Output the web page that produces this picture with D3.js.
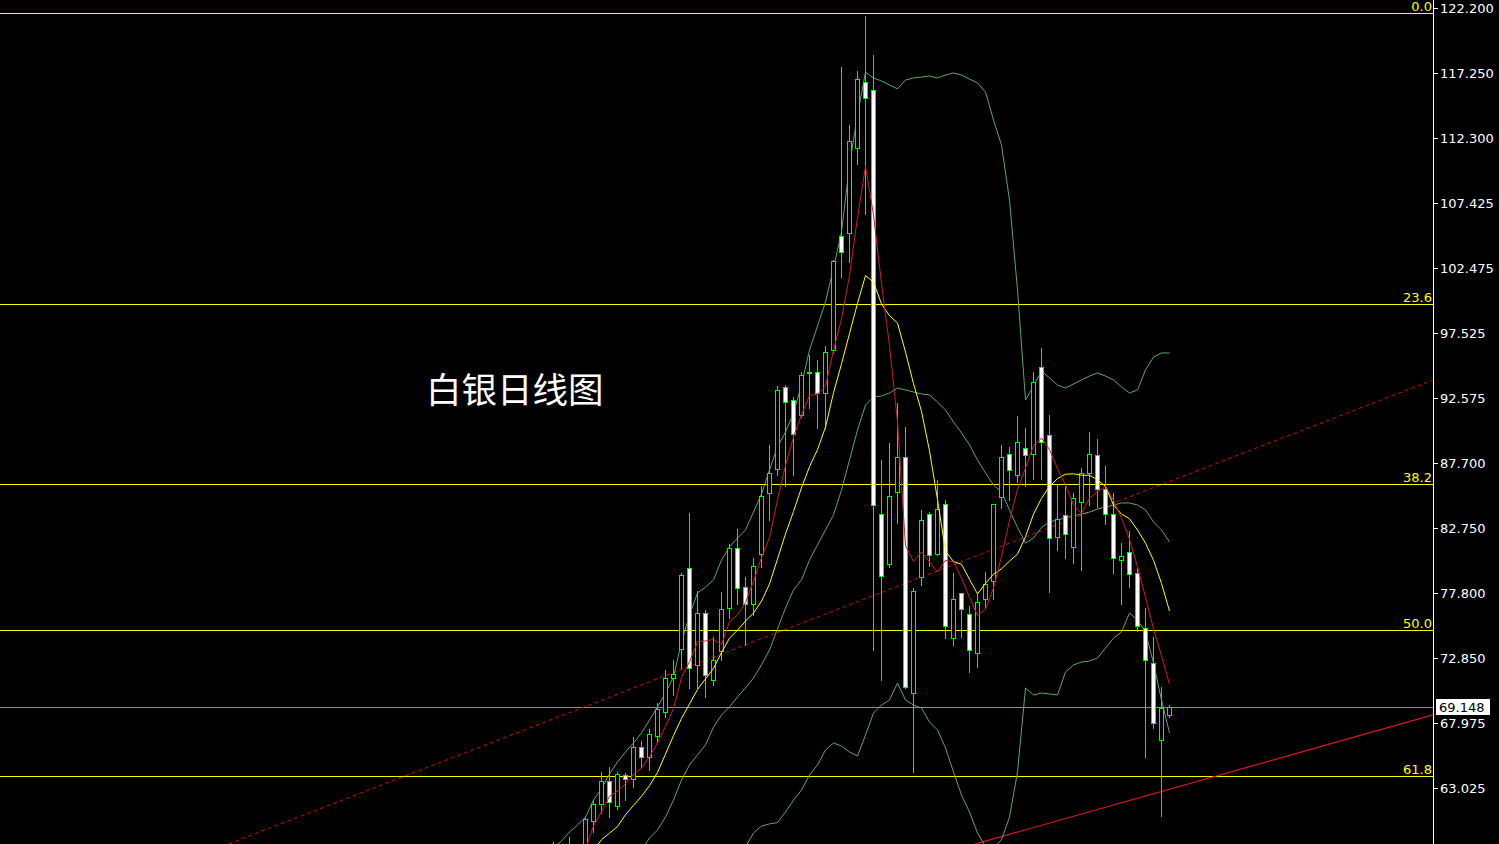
<!DOCTYPE html>
<html>
<head>
<meta charset="utf-8">
<script src="https://cdn.jsdelivr.net/npm/d3@7"></script>
<style>
  html, body { margin: 0; padding: 0; background: #000; overflow: hidden; }
  svg { display: block; }
</style>
</head>
<body>
<svg id="chart" width="1499" height="844"></svg>
<script>
// ---- Daily silver bars (oldest first) ----
const barOpen  = [57.6, 58.1, 57.3, 58.6, 58.2, 60.54, 61.79, 63.55, 61.68, 64.0,
                  63.7, 66.1, 65.4, 67.0, 68.8, 71.4, 73.6, 79.7, 72.35, 76.3,
                  71.2, 73.4, 76.7, 81.2, 78.25, 77.0, 80.75, 85.4, 87.2, 93.45,
                  92.45, 91.3, 94.5, 94.55, 93.0, 96.25, 104.9, 105.15, 111.6, 116.6,
                  115.95, 83.8, 80.0, 85.5, 88.15, 70.25, 79.0, 83.8, 80.75, 84.6,
                  74.4, 77.8, 76.2, 73.3, 77.35, 78.7, 85.1, 88.35, 86.8, 88.85,
                  88.35, 95.0, 89.8, 82.05, 83.7, 81.3, 84.75, 86.95, 88.25, 85.7,
                  83.8, 80.3, 80.9, 79.3, 75.2, 72.5, 66.7, 68.55];
const barHigh  = [58.9, 58.5, 59.3, 58.7, 60.85, 62.11, 64.2, 64.6, 64.2, 64.15,
                  66.9, 66.6, 67.5, 69.45, 71.97, 72.75, 79.3, 83.9, 78.0, 76.5,
                  74.5, 77.9, 81.5, 82.7, 79.0, 80.45, 85.9, 89.05, 93.5, 93.6,
                  92.7, 94.6, 95.9, 95.5, 96.55, 103.1, 117.75, 113.3, 117.4, 121.6,
                  118.6, 87.9, 89.2, 92.2, 90.4, 78.2, 84.1, 84.0, 86.4, 84.9,
                  79.3, 77.85, 76.8, 77.8, 79.4, 84.6, 89.05, 88.9, 91.25, 90.3,
                  94.55, 96.4, 91.3, 86.1, 85.9, 85.4, 87.3, 90.05, 89.5, 87.45,
                  85.4, 81.6, 82.5, 79.7, 76.65, 74.5, 70.7, 69.3];
const barLow   = [56.4, 56.9, 56.8, 57.1, 57.8, 59.71, 61.13, 60.8, 61.4, 62.1,
                  63.1, 64.6, 64.4, 66.5, 68.4, 70.1, 72.1, 70.6, 70.6, 69.9,
                  70.8, 72.7, 75.9, 77.0, 73.9, 76.15, 79.8, 83.35, 86.8, 85.9,
                  86.8, 91.2, 91.85, 90.3, 90.3, 96.0, 101.8, 102.95, 110.4, 106.6,
                  73.5, 71.2, 79.8, 83.1, 70.6, 64.2, 78.4, 79.9, 80.7, 74.4,
                  73.9, 74.5, 71.8, 72.2, 76.7, 77.4, 84.3, 84.9, 86.25, 85.9,
                  86.5, 86.5, 77.9, 81.1, 80.45, 80.1, 79.55, 84.5, 84.35, 83.05,
                  79.35, 77.0, 78.3, 74.95, 65.4, 67.55, 60.9, 68.4];
const barClose = [58.1, 57.2, 58.6, 57.9, 60.67, 61.79, 63.55, 61.94, 64.06, 63.7,
                  66.15, 65.4, 67.1, 69.0, 71.4, 71.7, 79.2, 72.1, 76.3, 71.6,
                  72.7, 76.6, 81.2, 78.2, 77.0, 79.9, 85.2, 86.9, 93.2, 92.3,
                  89.9, 94.35, 94.6, 93.0, 96.1, 103.0, 103.7, 112.1, 116.8, 115.4,
                  84.5, 79.1, 85.2, 88.1, 70.7, 78.0, 83.35, 80.7, 84.2, 75.3,
                  77.35, 76.6, 73.5, 77.1, 78.5, 84.55, 88.1, 87.15, 89.25, 88.3,
                  93.8, 89.3, 82.0, 83.4, 82.3, 85.0, 86.9, 88.35, 85.7, 83.8,
                  80.45, 80.65, 79.25, 75.3, 72.7, 67.95, 69.1, 69.148];

// ---- Indicator lines, one value per bar (null = not drawn) ----
const ma5 = [null, null, null, null, 58.4, 60.14, 61.2, 62.4, 62.8, 63.35,
             64.05, 64.55, 65.4, 66.45, 67.7, 69.05, 71.4, 72.6, 74.1, 74.18,
             74.3, 73.9, 75.65, 76.15, 77.1, 78.7, 80.5, 82.0, 84.9, 87.5,
             89.65, 91.33, 92.8, 92.9, 93.5, 96.23, 98.6, 101.9, 106.3, 110.2,
             106.5, 101.3, 96.6, 90.8, 81.4, 80.2, 80.95, 80.17, 79.4, 80.31,
             80.18, 78.95, 77.5, 76.1, 76.6, 78.2, 80.6, 83.3, 85.7, 87.3,
             89.0, 89.57, 88.7, 87.25, 86.0, 84.5, 83.85, 85.0, 85.5, 85.9,
             84.85, 83.5, 81.9, 79.8, 77.5, 75.1, 73.05, 70.9];
const ma10 = [null, null, null, null, null, 58.3, 59.1, 59.6, 60.1, 61.0,
              61.7, 62.4, 63.2, 64.2, 65.6, 67.0, 68.3, 69.4, 70.5, 71.3,
              72.1, 73.3, 74.4, 75.0, 75.68, 76.3, 77.2, 78.5, 80.4, 82.3,
              84.0, 85.8, 87.4, 88.7, 90.4, 93.0, 95.2, 97.5, 99.8, 101.9,
              101.4, 99.75, 98.85, 98.3, 96.1, 93.7, 91.6, 88.6, 84.9, 81.0,
              80.2, 80.0, 78.85, 77.75, 78.55, 79.25, 79.65, 80.24, 80.76, 82.1,
              83.8, 85.0, 85.9, 86.5, 86.83, 86.86, 86.75, 86.75, 86.4, 85.9,
              84.5, 83.8, 83.45, 82.6, 81.6, 80.3, 78.55, 76.45];
const bbMid = [null, null, null, null, null, null, null, null, null, null,
               null, 58.32, 59.23, 59.84, 60.82, 62.11, 63.63, 64.77, 65.53, 66.29,
               67.65, 68.56, 69.17, 69.93, 70.61, 71.37, 72.36, 73.49, 75.1, 76.68,
               78.05, 78.81, 80.32, 81.46, 82.6, 83.74, 85.63, 87.91, 90.18, 92.08,
               92.69, 92.76, 92.99, 93.37, 93.22, 93.07, 92.92, 92.84, 92.31, 91.7,
               90.79, 89.96, 89.05, 87.91, 86.93, 86.01, 85.48, 84.12, 82.79, 81.6,
               82.0, 82.79, 83.21, 83.36, 83.51, 83.66, 83.81, 83.96, 84.19, 84.34,
               84.49, 84.65, 84.65, 84.49, 84.12, 83.21, 82.6, 81.69];
const bbUpper = [58.5, 59.0, 59.68, 60.22, 60.82, 62.11, 62.95, 64.09, 65.0, 65.75,
                 66.44, 67.2, 68.18, 69.17, 70.23, 71.44, 74.1, 76.15, 77.82, 78.27,
                 78.81, 80.32, 81.31, 81.99, 82.6, 83.96, 85.33, 87.15, 88.9, 90.03,
                 91.47, 93.6, 96.25, 98.07, 99.9, 102.47, 105.21, 110.29, 114.08, 117.34,
                 116.89, 116.66, 116.36, 116.06, 116.74, 116.89, 116.96, 117.04, 116.89, 117.12,
                 117.27, 117.12, 116.81, 116.51, 115.83, 113.7, 111.81, 107.63, 100.81, 92.46,
                 93.52, 94.66, 94.13, 93.6, 93.37, 93.67, 93.98, 94.28, 94.51, 94.28,
                 93.98, 93.45, 92.99, 93.22, 94.74, 95.72, 96.03, 96.03];
const bbLower = [null, null, null, null, null, null, null, null, null, null,
                 null, null, null, null, null, null, null, null, null, null,
                 null, null, null, 57.8, 58.55, 59.61, 60.14, 60.3, 60.4, 61.2,
                 62.11, 62.87, 64.01, 64.77, 65.91, 66.44, 66.21, 65.76, 65.45, 67.04,
                 68.71, 69.32, 69.7, 70.99, 69.7, 69.32, 69.09, 68.03, 67.42, 66.06,
                 64.24, 62.49, 61.2, 59.6, 58.6, 58.45, 59.1, 60.82, 64.24, 70.61,
                 70.08, 70.23, 70.16, 70.08, 71.82, 72.36, 72.58, 72.66, 72.89, 73.64,
                 74.4, 74.86, 76.3, 75.77, 74.86, 72.51, 69.7, 67.2];

// ---- Fibonacci retracement (swing high to swing low) ----
const fibHigh = 121.82;
const fibLow = 28.2;
const fibRatios = [0, 0.236, 0.382, 0.5, 0.618];
const fibLabels = ["0.0", "23.6", "38.2", "50.0", "61.8"];

// ---- Trend lines: two anchors each (bar number, price) ----
const dashedTrend = [{ bar: 19, price: 72.70 }, { bar: 77, price: 86.26 }];
const solidTrend  = [{ bar: 59, price: 59.84 }, { bar: 76, price: 62.75 }];

// ---- Price axis ----
const priceTicks = [122.2, 117.25, 112.3, 107.425, 102.475, 97.525, 92.575,
                    87.7, 82.75, 77.8, 72.85, 67.975, 63.025];
const lastPrice = 69.148;
const priceMin = 58.775, priceMax = 122.807;
const chartTitle = "白银日线图";

// ---- Layout ----
const W = 1499, H = 844;
const plotRight = 1433;
const svg = d3.select("#chart");
svg.append("rect").attr("width", W).attr("height", H).attr("fill", "#000");

const N = barClose.length;
const x = d3.scaleLinear().domain([0, N - 1]).range([1169 - 8 * (N - 1), 1169]);
const y = d3.scaleLinear().domain([priceMin, priceMax]).range([H, 0]);
const px = i => Math.round(x(i));
const py = v => Math.round(y(v));

svg.append("defs").append("clipPath").attr("id", "plot")
  .append("rect").attr("x", 0).attr("y", 0).attr("width", plotRight).attr("height", H);
const plot = svg.append("g").attr("clip-path", "url(#plot)");

// Fibonacci levels
const fibG = plot.append("g");
fibRatios.forEach((r, k) => {
  const price = fibHigh - r * (fibHigh - fibLow);
  const yy = py(price) + 0.5;
  fibG.append("line")
    .attr("x1", 0).attr("x2", plotRight).attr("y1", yy).attr("y2", yy)
    .attr("stroke", "#ffff00").attr("stroke-width", 1).attr("shape-rendering", "crispEdges");
  fibG.append("text")
    .attr("x", plotRight - 1).attr("y", yy - 3)
    .attr("text-anchor", "end")
    .attr("fill", "#ffff00")
    .attr("font-family", "DejaVu Sans, sans-serif").attr("font-size", 13)
    .text(fibLabels[k]);
});

// Last price line
plot.append("line")
  .attr("x1", 0).attr("x2", plotRight)
  .attr("y1", py(lastPrice) + 0.5).attr("y2", py(lastPrice) + 0.5)
  .attr("stroke", "#8a8c9c").attr("stroke-width", 1).attr("shape-rendering", "crispEdges");

// Trend lines, extended across the plot
function trendPoints(t) {
  const slope = (t[1].price - t[0].price) / (t[1].bar - t[0].bar);
  const b0 = x.invert(0), b1 = x.invert(plotRight);
  return [[0, y(t[0].price + slope * (b0 - t[0].bar))],
          [plotRight, y(t[0].price + slope * (b1 - t[0].bar))]];
}
const dp = trendPoints(dashedTrend);
plot.append("line")
  .attr("x1", dp[0][0]).attr("y1", dp[0][1]).attr("x2", dp[1][0]).attr("y2", dp[1][1])
  .attr("stroke", "#c81010").attr("stroke-width", 1).attr("stroke-dasharray", "4,3");
const sp = trendPoints(solidTrend);
plot.append("line")
  .attr("x1", sp[0][0]).attr("y1", sp[0][1]).attr("x2", sp[1][0]).attr("y2", sp[1][1])
  .attr("stroke", "#e01818").attr("stroke-width", 1.2);

// Indicator lines
function drawSeries(values, color, width) {
  const line = d3.line()
    .defined(d => d != null)
    .x((d, i) => px(i) + 0.5)
    .y(d => y(d));
  plot.append("path").datum(values)
    .attr("fill", "none").attr("stroke", color).attr("stroke-width", width)
    .attr("d", line);
}
drawSeries(bbUpper, "#5aa66c", 1);
drawSeries(bbMid, "#5aa66c", 1);
drawSeries(bbLower, "#5aa66c", 1);

// Candles
const candles = plot.append("g");
d3.range(N).forEach(i => {
  const cx = px(i);
  const up = barClose[i] >= barOpen[i];
  candles.append("line")
    .attr("x1", cx + 0.5).attr("x2", cx + 0.5)
    .attr("y1", py(barHigh[i])).attr("y2", py(barLow[i]) + 1)
    .attr("stroke", "#00ff00").attr("stroke-width", 1).attr("shape-rendering", "crispEdges");
  const top = py(Math.max(barOpen[i], barClose[i]));
  const bot = py(Math.min(barOpen[i], barClose[i]));
  candles.append("rect")
    .attr("x", cx - 1.5).attr("y", top + 0.5)
    .attr("width", 4).attr("height", Math.max(bot - top, 1))
    .attr("fill", up ? "#000" : "#ffffff")
    .attr("stroke", "#00ff00").attr("stroke-width", 1).attr("shape-rendering", "crispEdges");
});

drawSeries(ma10, "#ffff00", 1);
drawSeries(ma5, "#cc1c2c", 1);

// Chart title
svg.append("text")
  .attr("x", 426).attr("y", 387)
  .attr("dominant-baseline", "central")
  .attr("fill", "#ffffff")
  .attr("font-family", "Noto Sans CJK SC, sans-serif")
  .attr("font-size", 35.5)
  .text(chartTitle);

// Right price axis
const axisG = svg.append("g");
axisG.append("line")
  .attr("x1", plotRight + 0.5).attr("x2", plotRight + 0.5).attr("y1", 0).attr("y2", H)
  .attr("stroke", "#ffffff").attr("stroke-width", 1).attr("shape-rendering", "crispEdges");
priceTicks.forEach(v => {
  const yy = py(v) + 0.5;
  axisG.append("line")
    .attr("x1", plotRight + 1).attr("x2", plotRight + 5).attr("y1", yy).attr("y2", yy)
    .attr("stroke", "#ffffff").attr("shape-rendering", "crispEdges");
  axisG.append("text")
    .attr("x", plotRight + 7).attr("y", yy)
    .attr("dominant-baseline", "central")
    .attr("fill", "#ffffff")
    .attr("font-family", "DejaVu Sans, sans-serif").attr("font-size", 13)
    .text(v.toFixed(3));
});

// Last price tag
const tagY = py(lastPrice);
axisG.append("rect")
  .attr("x", plotRight + 3).attr("y", tagY - 8)
  .attr("width", 54).attr("height", 16).attr("fill", "#ffffff");
axisG.append("text")
  .attr("x", plotRight + 6).attr("y", tagY + 0.5)
  .attr("dominant-baseline", "central")
  .attr("fill", "#000000")
  .attr("font-family", "DejaVu Sans, sans-serif").attr("font-size", 13)
  .text(lastPrice.toFixed(3));
</script>
</body>
</html>
